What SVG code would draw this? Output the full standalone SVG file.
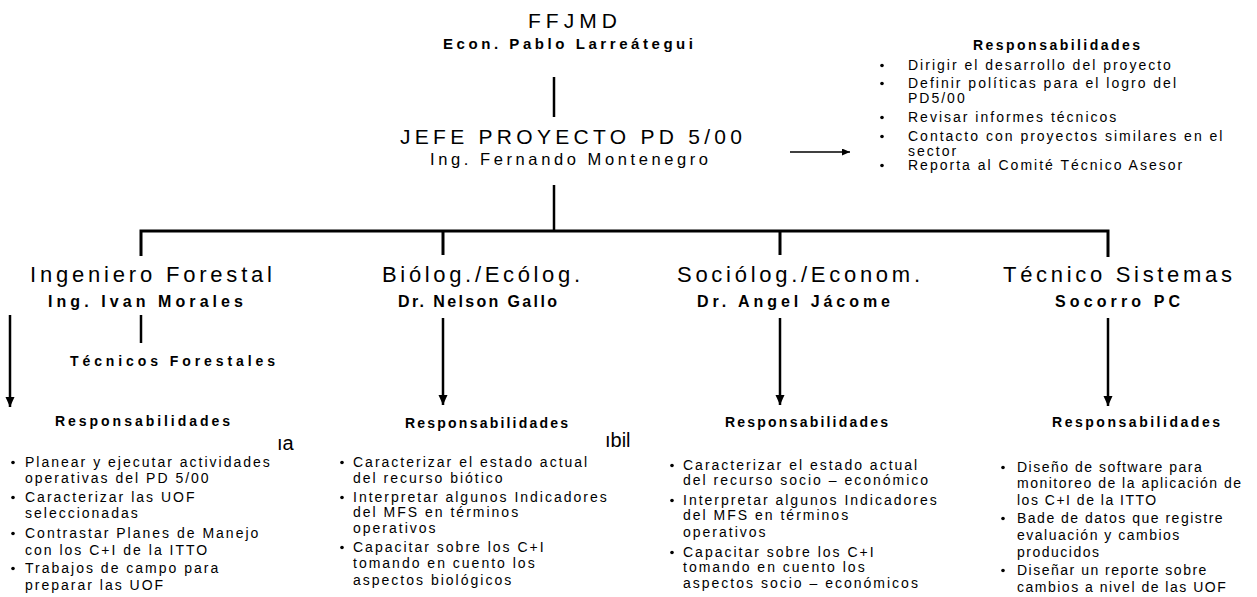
<svg xmlns="http://www.w3.org/2000/svg" width="1257" height="597" viewBox="0 0 1257 597">
<style>
text{font-family:"Liberation Sans",Arial,sans-serif;fill:#000}
.h1{font-size:21px}
.h2{font-size:22px}
.nm{font-size:16px;font-weight:bold}
.rs{font-size:14px;font-weight:bold}
.li{font-size:14px;letter-spacing:2px}
.lt{font-size:14px;letter-spacing:1.5px}
.st{font-size:20px}
.ln{stroke:#000;stroke-width:2.5;fill:none}
.bar{stroke:#000;stroke-width:3;fill:none}
.ar{stroke:#000;stroke-width:2.5;fill:none;marker-end:url(#ah)}
.dot{fill:#000}
</style>
<defs>
<marker id="ah" markerUnits="userSpaceOnUse" markerWidth="10" markerHeight="10" refX="10" refY="5" orient="auto">
<path d="M0,0.5 L10,5 L0,9.5 Z" fill="#000"/>
</marker>
<marker id="ahs" markerUnits="userSpaceOnUse" markerWidth="8" markerHeight="7" refX="8" refY="3.5" orient="auto">
<path d="M0,0 L8,3.5 L0,7 Z" fill="#000"/>
</marker>
</defs>

<g id="connectors">
<line class="ln" x1="554" y1="77" x2="554" y2="117"/>
<line class="ln" x1="554" y1="185" x2="554" y2="231"/>
<line x1="790" y1="152" x2="850" y2="152" stroke="#000" stroke-width="1.5" marker-end="url(#ahs)"/>
<path class="bar" d="M141,256 V231 H1108 V257"/>
<line class="bar" x1="443" y1="231" x2="443" y2="255"/>
<line class="bar" x1="780" y1="231" x2="780" y2="255"/>
<line class="ln" x1="141" y1="315" x2="141" y2="343"/>
<line class="ar" x1="10" y1="315" x2="10" y2="407"/>
<line class="ar" x1="443" y1="318" x2="443" y2="405"/>
<line class="ar" x1="780" y1="318" x2="780" y2="405"/>
<line class="ar" x1="1108" y1="318" x2="1108" y2="406"/>
</g>

<g id="n-ffjmd">
<text class="h1" x="528" y="28" textLength="89" lengthAdjust="spacing">FFJMD</text>
<text x="443" y="49" font-size="15" font-weight="bold" textLength="250" lengthAdjust="spacing">Econ. Pablo Larreátegui</text>
</g>

<g id="n-jefe">
<text class="h1" x="400" y="144" textLength="342" lengthAdjust="spacing">JEFE PROYECTO PD 5/00</text>
<text x="430" y="165" font-size="16.5" textLength="278" lengthAdjust="spacing">Ing. Fernando Montenegro</text>
</g>

<g id="n-resp-jefe">
<text class="rs" x="973" y="50" textLength="167" lengthAdjust="spacing">Responsabilidades</text>
<circle class="dot" cx="882" cy="65.5" r="1.8"/>
<circle class="dot" cx="882" cy="83.5" r="1.8"/>
<circle class="dot" cx="882" cy="117.5" r="1.8"/>
<circle class="dot" cx="882" cy="136.5" r="1.8"/>
<circle class="dot" cx="882" cy="165.5" r="1.8"/>
<text class="li" x="908" y="70">Dirigir el desarrollo del proyecto</text>
<text class="li" x="908" y="88">Definir políticas para el logro del</text>
<text class="li" x="908" y="103">PD5/00</text>
<text class="li" x="908" y="122">Revisar informes técnicos</text>
<text class="li" x="908" y="141">Contacto con proyectos similares en el</text>
<text class="li" x="908" y="156">sector</text>
<text class="li" x="908" y="170">Reporta al Comité Técnico Asesor</text>
</g>

<g id="n-forestal">
<text class="h2" x="30" y="282" textLength="242" lengthAdjust="spacing">Ingeniero Forestal</text>
<text class="nm" x="48" y="307" textLength="195" lengthAdjust="spacing">Ing. Ivan Morales</text>
</g>

<g id="n-tecnicos">
<text class="rs" x="70" y="366" textLength="205" lengthAdjust="spacing">Técnicos Forestales</text>
</g>

<g id="n-bio">
<text class="h2" x="382" y="282" textLength="198" lengthAdjust="spacing">Biólog./Ecólog.</text>
<text class="nm" x="398" y="307" textLength="159" lengthAdjust="spacing">Dr. Nelson Gallo</text>
</g>

<g id="n-socio">
<text class="h2" x="677" y="282" textLength="243" lengthAdjust="spacing">Sociólog./Econom.</text>
<text class="nm" x="697" y="307" textLength="193" lengthAdjust="spacing">Dr. Angel Jácome</text>
</g>

<g id="n-tecnico">
<text class="h2" x="1003" y="282" textLength="229" lengthAdjust="spacing">Técnico Sistemas</text>
<text class="nm" x="1055" y="307" textLength="125" lengthAdjust="spacing">Socorro PC</text>
</g>

<g id="list-forestal">
<text class="rs" x="55" y="426" textLength="175" lengthAdjust="spacing">Responsabilidades</text>
<circle class="dot" cx="13" cy="462.5" r="1.8"/>
<circle class="dot" cx="13" cy="497.5" r="1.8"/>
<circle class="dot" cx="13" cy="533.5" r="1.8"/>
<circle class="dot" cx="13" cy="568.5" r="1.8"/>
<text class="li" x="25" y="467">Planear y ejecutar actividades</text>
<text class="li" x="25" y="483">operativas del PD 5/00</text>
<text class="li" x="25" y="502">Caracterizar las UOF</text>
<text class="li" x="25" y="518">seleccionadas</text>
<text class="li" x="25" y="538">Contrastar Planes de Manejo</text>
<text class="li" x="25" y="555">con los C+I de la ITTO</text>
<text class="li" x="25" y="573">Trabajos de campo para</text>
<text class="li" x="25" y="590">preparar las UOF</text>
</g>

<g id="list-bio">
<text class="rs" x="405" y="428" textLength="163" lengthAdjust="spacing">Responsabilidades</text>
<circle class="dot" cx="342" cy="462.5" r="1.8"/>
<circle class="dot" cx="342" cy="497.5" r="1.8"/>
<circle class="dot" cx="342" cy="547.5" r="1.8"/>
<text class="li" x="353" y="467">Caracterizar el estado actual</text>
<text class="li" x="353" y="483">del recurso biótico</text>
<text class="li" x="353" y="502">Interpretar algunos Indicadores</text>
<text class="li" x="353" y="517">del MFS en términos</text>
<text class="li" x="353" y="533">operativos</text>
<text class="li" x="353" y="552">Capacitar sobre los C+I</text>
<text class="li" x="353" y="568">tomando en cuento los</text>
<text class="li" x="353" y="585">aspectos biológicos</text>
</g>

<g id="list-socio">
<text class="rs" x="725" y="427" textLength="163" lengthAdjust="spacing">Responsabilidades</text>
<circle class="dot" cx="672" cy="465.5" r="1.8"/>
<circle class="dot" cx="672" cy="500.5" r="1.8"/>
<circle class="dot" cx="672" cy="552.5" r="1.8"/>
<text class="li" x="683" y="470">Caracterizar el estado actual</text>
<text class="li" x="683" y="485">del recurso socio – económico</text>
<text class="li" x="683" y="505">Interpretar algunos Indicadores</text>
<text class="li" x="683" y="520">del MFS en términos</text>
<text class="li" x="683" y="537">operativos</text>
<text class="li" x="683" y="557">Capacitar sobre los C+I</text>
<text class="li" x="683" y="572">tomando en cuento los</text>
<text class="li" x="683" y="588">aspectos socio – económicos</text>
</g>

<g id="list-tecnico">
<text class="rs" x="1052" y="427" textLength="168" lengthAdjust="spacing">Responsabilidades</text>
<circle class="dot" cx="1003" cy="467.5" r="1.8"/>
<circle class="dot" cx="1003" cy="518.5" r="1.8"/>
<circle class="dot" cx="1003" cy="570.5" r="1.8"/>
<text class="lt" x="1017" y="472">Diseño de software para</text>
<text class="lt" x="1017" y="488">monitoreo de la aplicación de</text>
<text class="lt" x="1017" y="505">los C+I de la ITTO</text>
<text class="lt" x="1017" y="523">Bade de datos que registre</text>
<text class="lt" x="1017" y="540">evaluación y cambios</text>
<text class="lt" x="1017" y="557">producidos</text>
<text class="lt" x="1017" y="575">Diseñar un reporte sobre</text>
<text class="lt" x="1017" y="592">cambios a nivel de las UOF</text>
</g>

<g id="stray">
<text class="st" x="277" y="450">ıa</text>
<text class="st" x="605" y="447">ıbil</text>
</g>
</svg>
